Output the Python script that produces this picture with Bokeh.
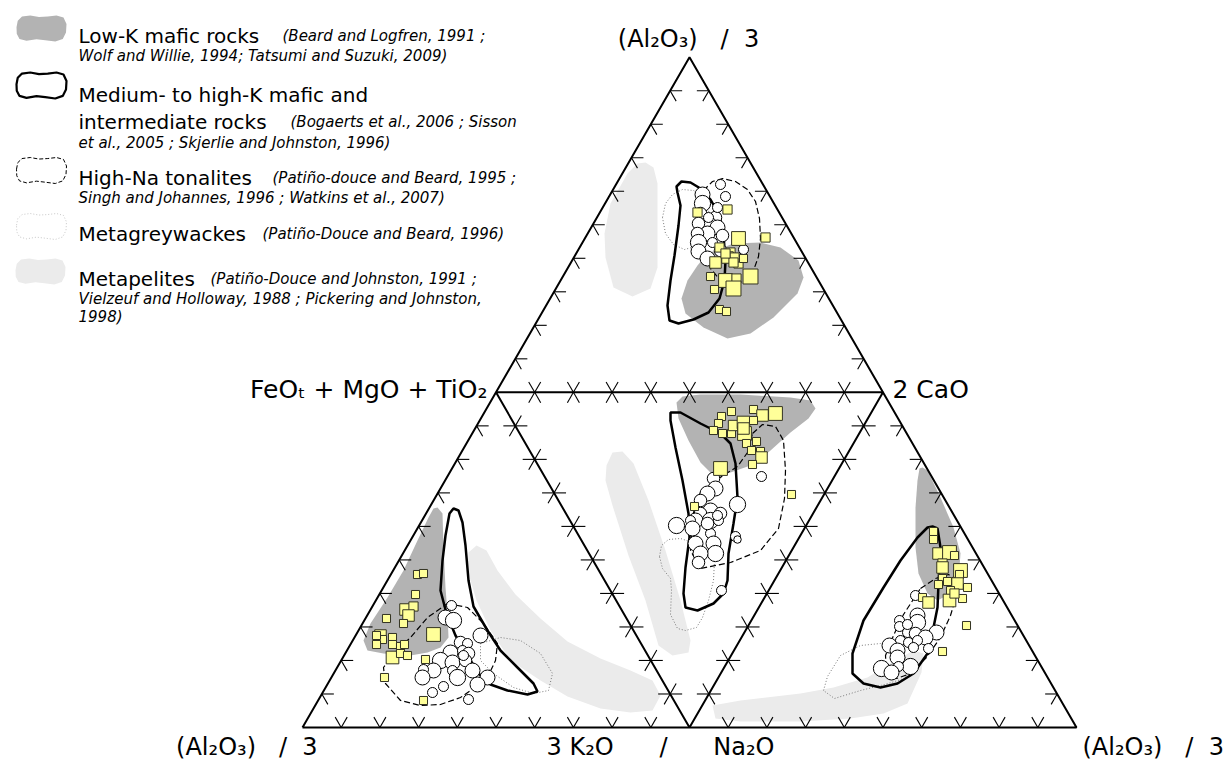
import numpy as np
from bokeh.plotting import figure
from bokeh.models import Range1d
from bokeh.embed import file_html
from bokeh.resources import INLINE
from bokeh.core.properties import value

# ---------------------------------------------------------------------------
# DATA  (diagram coordinates: origin = lower-left apex of the large triangle,
#        each of the four sub-triangles has a side of 387 units)
# ---------------------------------------------------------------------------
# --- upper triangle: Al2O3/3 - FMT - 2CaO
top_metapelite = [(343,565),(351,560),(355,544),(355,504),(355,460),(348,439),(330,431),
                  (311,440),(303,470),(302,494),(308,524),(325,554),(335,564)]
top_lowk = [(405,474),(431,484),(458,485),(478,480),(496,467),(501,450),(495,434),(471,410),
            (448,394),(425,389),(401,400),(383,414),(379,429),(385,447),(395,462)]
top_medk = [(374,541),(379,546),(388,545),(398,539),(408,528),(417,512),(421,492),(423,467),
            (422,447),(417,429),(406,415),(391,408),(376,404),(367,407),(365,422),(368,447),
            (372,472),(376,502),(378,522),(375,535)]
top_tonalite = [(401,537),(410,546),(420,549),(433,546),(445,538),(453,526),(457,509),(458,489),
                (456,471),(451,457),(442,447),(430,443),(418,447),(408,459),(401,477),(398,497),(397,517)]
top_greywacke = [(360,510),(363,524),(370,533),(380,538),(391,537),(401,531),(406,519),(407,505),
                 (403,491),(393,481),(382,478),(371,483),(363,494)]
top_circles = [(418,543,8),(423,531,8),(400,533,12),(400,524,13),(398,514,10),(413,510,10),
               (406,502,14),(396,504,10),(415,500,12),(405,494,12),(395,494,10),(396,485,13),
               (410,485,8),(396,476,12),(405,469,12),(418,477,10),(441,478,8),(420,492,10),
               (415,520,8),(406,510,8)]
top_squares = [(395,515,8),(425,518,8),(436,489,12),(463,490,8),(417,480,8),(428,475,8),
               (425,470,10),(413,465,10),(436,464,8),(432,470,8),(441,469,7),(408,451,7),
               (448,451,13),(423,447,12),(434,449,8),(431,439,13),(412,438,7),(417,418,7),
               (424,416,7),(431,465,8),(423,474,8)]

# --- central (inverted) triangle: FMT - 2CaO - 3K2O/Na2O
ctr_metapelite = [(304,262),(310,275),(320,276),(331,264),(346,227),(363,177),(378,127),(388,87),
                  (386,75),(370,72),(356,82),(343,127),(326,172),(310,222),(303,247)]
ctr_lowk = [(374,325),(380,331),(398,333),(438,333),(488,330),(508,327),(513,319),(506,309),
            (488,295),(468,277),(448,262),(428,255),(410,253),(398,265),(386,287),(376,309)]
ctr_medk = [(368,315),(378,315),(398,304),(418,294),(428,284),(433,264),(435,230),(431,204),
            (426,174),(425,147),(421,134),(411,124),(395,117),(383,120),(381,134),(383,160),
            (387,190),(386,214),(380,247),(373,280),(368,307)]
ctr_tonalite = [(450,294),(460,303),(473,301),(481,287),(483,257),(482,229),(476,199),(458,177),
                (428,165),(398,159),(388,177),(390,212),(398,235),(416,249),(435,261),(445,275)]
ctr_greywacke = [(357,171),(359,182),(366,188),(378,189),(390,185),(403,179),(412,167),(411,147),
                 (406,127),(400,110),(394,100),(383,97),(375,99),(368,113),(369,137),(368,149),(360,159)]
ctr_circles = [(411,249,10),(413,239,12),(405,234,12),(398,227,10),(435,223,13),(459,251,8),
               (408,217,12),(418,214,10),(398,214,10),(393,207,12),(408,207,13),(416,207,8),
               (374,202,13),(388,207,8),(390,199,12),(408,194,8),(433,191,8),(435,188,6),
               (393,184,12),(411,184,12),(413,174,13),(398,174,12),(396,165,10),(419,137,8),
               (415,212,8),(405,204,10)]
ctr_squares = [(429,316,7),(419,311,7),(416,304,7),(411,297,7),(420,294,7),(429,294,7),
               (431,302,9),(441,305,11),(442,294,12),(451,318,7),(460,312,10),(473,314,12),
               (451,307,7),(444,284,7),(454,286,7),(449,277,7),(458,276,7),(459,270,10),
               (450,263,7),(418,259,12),(489,233,7),(392,221,7),(441,299,10)]

# --- lower-left triangle: Al2O3/3 - 3K2O/Na2O - FMT
bl_metapelite = [(166,175),(174,182),(184,177),(195,157),(213,133),(238,109),(265,86),(298,69),
                 (328,57),(350,47),(358,32),(350,17),(328,15),(298,19),(265,31),(238,47),
                 (208,67),(188,97),(174,127),(165,157)]
bl_lowk = [(135,220),(140,214),(141,180),(143,140),(145,114),(146,90),(138,80),(125,75),(108,72),
           (81,74),(65,77),(61,87),(68,104),(85,130),(101,157),(115,187),(126,210),(131,219)]
bl_medk = [(147,214),(151,219),(156,217),(160,205),(163,182),(166,147),(171,121),(185,97),
           (198,77),(215,60),(231,44),(235,36),(225,33),(205,37),(188,43),(176,54),(165,72),
           (153,92),(144,114),(138,137),(140,167),(143,192)]
bl_tonalite = [(145,124),(165,120),(181,104),(195,84),(193,67),(185,50),(178,44),(158,30),
               (138,23),(118,22),(98,27),(83,44),(81,60),(91,74),(108,90),(125,110)]
bl_greywacke = [(178,84),(198,90),(218,87),(238,74),(250,54),(246,37),(231,34),(211,40),
                (191,54),(178,67)]
bl_circles = [(149,122,8),(143,110,12),(151,107,13),(178,92,12),(158,85,10),(165,84,8),
              (148,75,12),(160,77,8),(166,74,10),(138,67,13),(150,65,12),(163,67,10),
              (170,57,12),(131,57,12),(150,57,8),(121,58,8),(120,50,12),(155,50,13),
              (185,50,12),(175,43,12),(141,41,8),(130,35,8),(166,28,8),(161,72,8)]
bl_squares = [(115,153,7),(121,154,7),(113,133,7),(103,118,10),(111,121,8),(106,112,10),
              (84,109,7),(101,104,7),(131,93,12),(78,92,10),(80,88,7),(90,90,7),(74,83,7),
              (90,83,7),(98,81,7),(102,83,7),(90,70,11),(98,74,7),(105,72,7),(123,68,7),
              (82,50,7),(121,27,7),(74,92,7)]

# --- lower-right triangle: 3K2O/Na2O - Al2O3/3 - 2CaO
br_metapelite = [(410,22),(438,27),(498,34),(531,40),(565,50),(591,66),(611,77),(621,74),
                 (619,55),(605,24),(581,14),(548,9),(498,6),(438,6),(413,9)]
br_lowk = [(620,260),(625,257),(638,230),(651,200),(658,174),(656,147),(648,134),(635,127),
           (625,134),(616,154),(613,180),(613,220),(615,247),(617,259)]
br_medk = [(630,201),(635,199),(638,180),(636,144),(635,120),(631,100),(625,74),(611,54),
           (595,44),(578,40),(561,44),(550,54),(550,74),(561,107),(581,140),(598,167),
           (615,190),(625,200)]
br_tonalite = [(618,139),(633,149),(646,153),(654,147),(654,132),(648,112),(638,90),(624,70),
               (608,54),(594,49),(584,55),(583,72),(591,92),(601,113)]
br_greywacke = [(521,37),(525,51),(538,72),(558,82),(578,84),(598,77),(608,62),(602,49),
                (582,43),(558,37),(532,29)]
br_circles = [(613,132,8),(615,112,12),(597,107,8),(597,101,8),(615,105,13),(605,95,8),
              (613,94,10),(634,95,12),(623,90,12),(598,87,8),(606,85,8),(615,87,8),
              (587,82,12),(595,77,12),(611,80,8),(626,79,8),(595,70,12),(608,61,13),
              (579,59,13),(596,61,8),(589,55,12),(605,103,8)]
br_squares = [(631,196,7),(631,188,7),(636,174,10),(647,175,12),(652,172,7),(640,164,8),
              (640,160,10),(658,157,12),(657,153,7),(640,149,7),(645,146,7),(636,143,7),
              (655,144,10),(665,140,7),(648,137,7),(647,127,11),(660,129,7),(620,130,7),
              (626,125,10),(664,102,7),(640,76,7),(652,134,8)]

NB = "\u00a0"
# apex labels
apex_top = "(Al\u2082O\u2083)" + NB * 3 + "/" + NB * 2 + "3"
apex_fmt = "FeO\u209c" + NB + "+" + NB + "MgO" + NB + "+" + NB + "TiO\u2082"
apex_ca = "2" + NB + "CaO"
apex_left = "(Al\u2082O\u2083)" + NB * 3 + "/" + NB * 2 + "3"
apex_kna = "3" + NB + "K\u2082O" + NB * 6 + "/" + NB * 6 + "Na\u2082O"
apex_right = "(Al\u2082O\u2083)" + NB * 3 + "/" + NB * 2 + "3"

legend_names = ["Low-K mafic rocks", "Medium- to high-K mafic and", "High-Na tonalites",
                "Metagreywackes", "Metapelites"]

# ---------------------------------------------------------------------------
FONT = value("DejaVu Sans")
S = 774.0
H = S * np.sqrt(3) / 2
A = np.array([0.0, 0.0]); B = np.array([S, 0.0]); C = np.array([S / 2, H])
Lm = (A + C) / 2; Rm = (B + C) / 2; Mm = (A + B) / 2
triangles = [(Lm, Rm, C), (Lm, Rm, Mm), (A, Mm, Lm), (Mm, B, Rm)]

def sx(px):  # picture-pixel helper for annotation placement
    return px - 302

def sy(py):
    return 727 - py

p = figure(width=1224, height=760, x_range=Range1d(-302, 922), y_range=Range1d(-33, 727),
           output_backend="svg", toolbar_location=None, min_border=0,
           x_axis_type=None, y_axis_type=None)
p.grid.visible = False
p.outline_line_color = None
p.background_fill_color = "white"

def xy(poly):
    return [q[0] for q in poly], [q[1] for q in poly]

GREY_LIGHT = "#ebebeb"
GREY_DARK = "#b3b3b3"

for poly in (top_metapelite, ctr_metapelite, bl_metapelite, br_metapelite):
    x, y = xy(poly)
    p.patch(x, y, fill_color=GREY_LIGHT, line_color=None)
for poly in (top_lowk, ctr_lowk, bl_lowk, br_lowk):
    x, y = xy(poly)
    p.patch(x, y, fill_color=GREY_DARK, line_color=None)

# triangle frames
p.line([A[0], B[0], C[0], A[0]], [A[1], B[1], C[1], A[1]], line_color="black", line_width=2)
p.line([Lm[0], Rm[0], Mm[0], Lm[0]], [Lm[1], Rm[1], Mm[1], Lm[1]], line_color="black", line_width=2)

# ticks: two short arms parallel to the other two sides, pointing inwards
TICK = 12.0
tx, ty = [], []
for (P1, P2, P3) in triangles:
    for V1, V2, V3 in ((P1, P2, P3), (P2, P3, P1), (P3, P1, P2)):
        for k in range(1, 10):
            P = V1 + (V2 - V1) * k / 10.0
            for Vt in (V1, V2):
                d = V3 - Vt
                d = d / np.linalg.norm(d) * TICK
                tx.append([P[0], P[0] + d[0]])
                ty.append([P[1], P[1] + d[1]])
p.multi_line(tx, ty, line_color="black", line_width=1.1)

for poly in (top_greywacke, ctr_greywacke, bl_greywacke, br_greywacke):
    x, y = xy(poly)
    p.patch(x, y, fill_alpha=0, line_color="#7a7a7a", line_width=1, line_dash="1 2")
for poly in (top_tonalite, ctr_tonalite, bl_tonalite, br_tonalite):
    x, y = xy(poly)
    p.patch(x, y, fill_alpha=0, line_color="black", line_width=1.2, line_dash="6 3")
for poly in (top_medk, ctr_medk, bl_medk, br_medk):
    x, y = xy(poly)
    p.patch(x, y, fill_alpha=0, line_color="black", line_width=2.5)

CIRCLE_SCALE = 1.25
SQUARE_SCALE = 1.15
for pts in (top_circles, ctr_circles, bl_circles, br_circles):
    p.scatter([q[0] for q in pts], [q[1] for q in pts], size=[q[2] * CIRCLE_SCALE for q in pts],
              marker="circle", fill_color="white", line_color="black", line_width=1)
for pts in (top_squares, ctr_squares, bl_squares, br_squares):
    p.scatter([q[0] for q in pts], [q[1] for q in pts], size=[q[2] * SQUARE_SCALE for q in pts],
              marker="square", fill_color="#ffff99", line_color="#333322", line_width=1)

def label(x, y, t, size, align="left", style="normal"):
    p.text(x=[x], y=[y], text=[t], text_font=FONT, text_font_size=size, text_align=align,
           text_baseline="alphabetic", text_color="black", text_font_style=style)

APEX = "25px"
label(sx(688), sy(38), apex_top, "24px", "center")
label(sx(487), sy(389), apex_fmt, APEX, "right")
label(sx(892), sy(389), apex_ca, APEX, "left")
label(sx(317), sy(746), apex_left, "24px", "right")
label(sx(660), sy(746), apex_kna, "24px", "center")
label(sx(1082), sy(746), apex_right, "24px", "left")

# legend icons
icon_shape = [(-1.0, 0.1), (-0.95, 0.6), (-0.78, 0.92), (-0.45, 1.0), (-0.1, 0.88), (0.25, 0.92),
              (0.6, 1.0), (0.88, 0.85), (1.0, 0.35), (0.98, -0.3), (0.85, -0.8), (0.55, -1.0),
              (0.15, -0.9), (-0.2, -0.82), (-0.6, -0.95), (-0.88, -0.8), (-0.99, -0.4)]

def icon(cx, cy, **kw):
    xs = [sx(cx) + 25 * q[0] for q in icon_shape]
    ys = [sy(cy) + 13 * q[1] for q in icon_shape]
    p.patch(xs, ys, **kw)

icon(41, 28, fill_color=GREY_DARK, line_color=None)
icon(41, 85, fill_alpha=0, line_color="black", line_width=2.2)
icon(41, 170, fill_alpha=0, line_color="black", line_width=1, line_dash="4 2")
icon(41, 226, fill_alpha=0, line_color="#c8c8c8", line_width=1, line_dash="1 2")
icon(40, 271, fill_color=GREY_LIGHT, line_color=None)

BIG = "20px"; REF = "15px"
label(sx(78), sy(35), legend_names[0], BIG)
label(sx(282), sy(35), "(Beard and Logfren, 1991 ;", REF, style="italic")
label(sx(78), sy(55), "Wolf and Willie, 1994; Tatsumi and Suzuki, 2009)", REF, style="italic")
label(sx(78), sy(94), legend_names[1], BIG)
label(sx(78), sy(121), "intermediate rocks", BIG)
label(sx(290), sy(121), "(Bogaerts et al., 2006 ; Sisson", REF, style="italic")
label(sx(78), sy(142), "et al., 2005 ; Skjerlie and Johnston, 1996)", REF, style="italic")
label(sx(78), sy(177), legend_names[2], BIG)
label(sx(272), sy(177), "(Pati\u00f1o-douce and Beard, 1995 ;", REF, style="italic")
label(sx(78), sy(197), "Singh and Johannes, 1996 ; Watkins et al., 2007)", REF, style="italic")
label(sx(78), sy(233), legend_names[3], BIG)
label(sx(262), sy(233), "(Pati\u00f1o-Douce and Beard, 1996)", REF, style="italic")
label(sx(78), sy(278), legend_names[4], BIG)
label(sx(210), sy(278), "(Pati\u00f1o-Douce and Johnston, 1991 ;", REF, style="italic")
label(sx(78), sy(298), "Vielzeuf and Holloway, 1988 ; Pickering and Johnston,", REF, style="italic")
label(sx(78), sy(316), "1998)", REF, style="italic")

open("out.html", "w").write(file_html(p, INLINE))
